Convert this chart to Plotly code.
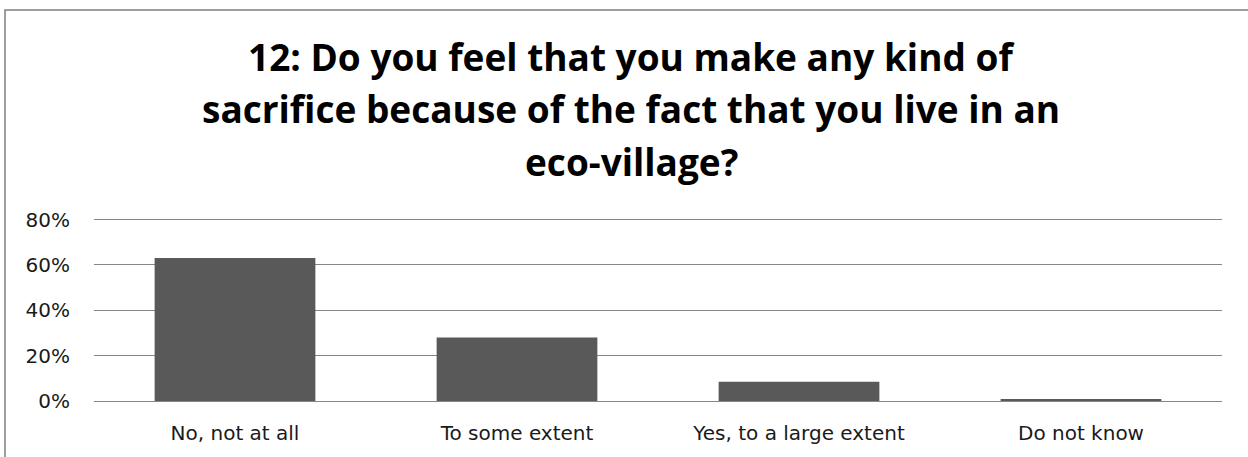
import plotly.graph_objects as go

categories = ["No, not at all", "To some extent", "Yes, to a large extent", "Do not know"]
values = [0.63, 0.28, 0.085, 0.005]
tick_vals = [0, 0.2, 0.4, 0.6, 0.8]
tick_text = ["0%", "20%", "40%", "60%", "80%"]
title_lines = ["12: Do you feel that you make any kind of",
               "sacrifice because of the fact that you live in an",
               "eco-village?"]

W, H = 1248, 457
L, R, B = 94, 26, 56
Y_TOP = 0.82
T = 215
ph = H - T - B

fig = go.Figure(go.Bar(x=categories, y=values, marker=dict(color="#595959", line=dict(width=0)),
                       hoverinfo="skip"))

fig.update_layout(
    width=W, height=H,
    margin=dict(l=L, r=R, t=T, b=B),
    paper_bgcolor="white", plot_bgcolor="white",
    bargap=0.43,
    showlegend=False,
    font=dict(family="DejaVu Sans, sans-serif", color="#000000"),
    xaxis=dict(showgrid=False, zeroline=False, showline=False, ticks="",
               tickfont=dict(size=20, color="#1a1a1a", family="DejaVu Sans"), ticklabelstandoff=18),
    yaxis=dict(range=[0, Y_TOP], tickvals=tick_vals, ticktext=tick_text,
               showgrid=True, gridcolor="#868686", gridwidth=1, zeroline=True,
               zerolinecolor="#868686", zerolinewidth=1, showline=False, ticks="",
               tickfont=dict(size=20, color="#1a1a1a", family="DejaVu Sans"), ticklabelstandoff=23),
)

pw = W - L - R
def px_x(p):
    return (p - L) / pw
def px_y(p):
    return (H - B - p) / ph

for i, line in enumerate(title_lines):
    fig.add_annotation(text=line, xref="paper", yref="paper",
                       x=px_x(631), y=px_y(56 + 52.5 * i), xanchor="center", yanchor="middle",
                       showarrow=False,
                       font=dict(family="Open Sans", size=37, color="#000000", weight="bold"))

fig.add_shape(type="rect", xref="paper", yref="paper",
              x0=px_x(5), x1=px_x(W + 20), y0=px_y(H + 20), y1=px_y(10),
              line=dict(color="#7f7f7f", width=1.5), fillcolor="rgba(0,0,0,0)", layer="below")

fig.write_html("out.html", config={"displayModeBar": False},
               post_script="document.body.style.margin='0';document.body.style.overflow='hidden';")
